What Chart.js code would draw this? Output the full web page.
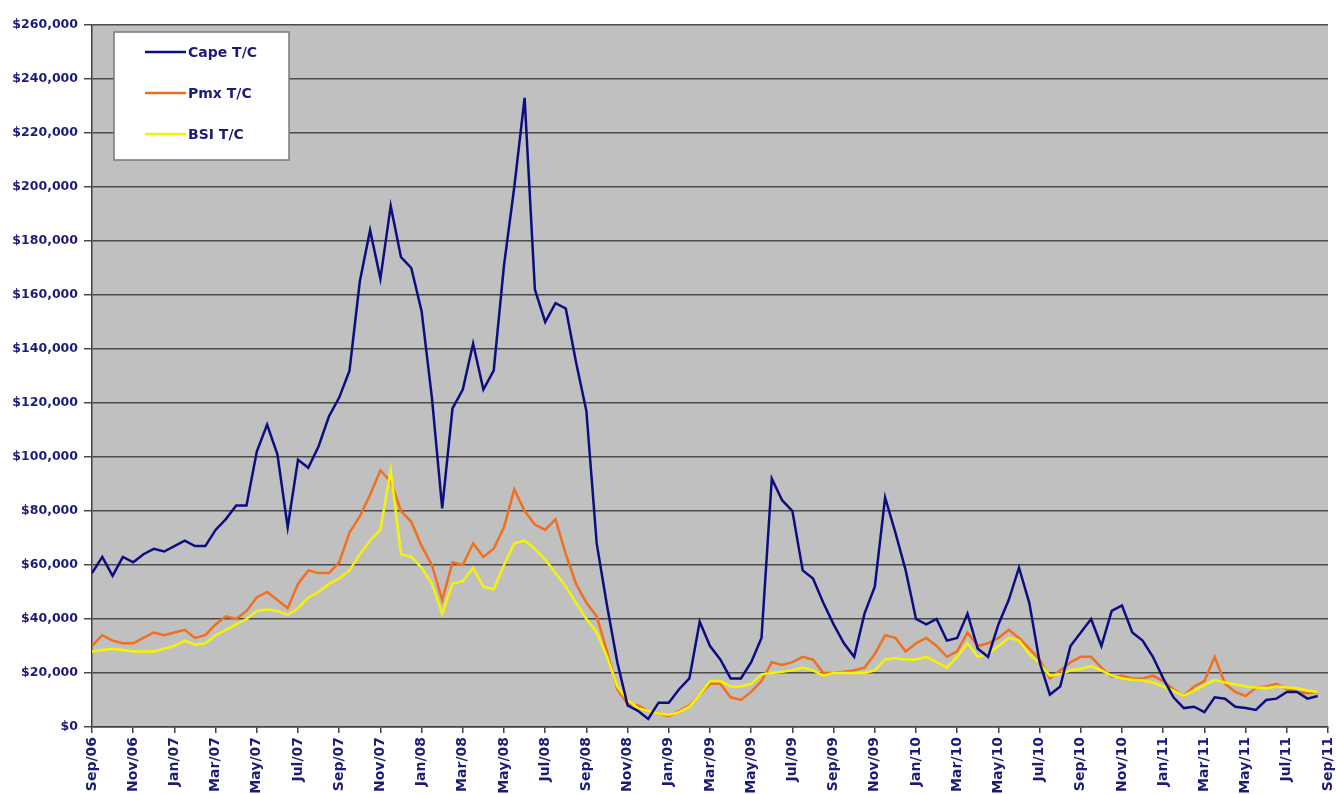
<!DOCTYPE html>
<html>
<head>
<meta charset="utf-8">
<script src="https://cdn.jsdelivr.net/npm/chart.js@4.4.1/dist/chart.umd.min.js"></script>
<style>
  html, body { margin: 0; padding: 0; background: #ffffff; }
  #wrap { width: 1336px; height: 794px; position: relative; }
</style>
</head>
<body>
<div id="wrap"><canvas id="tcChart"></canvas></div>
<script>
// tick labels, one every two months from Sep/06 to Sep/11
const tickLabels = ['Sep/06','Nov/06','Jan/07','Mar/07','May/07','Jul/07','Sep/07','Nov/07',
  'Jan/08','Mar/08','May/08','Jul/08','Sep/08','Nov/08','Jan/09','Mar/09','May/09','Jul/09',
  'Sep/09','Nov/09','Jan/10','Mar/10','May/10','Jul/10','Sep/10','Nov/10','Jan/11','Mar/11',
  'May/11','Jul/11','Sep/11'];

// one reading every half month, in $ thousands per day
const STEP = 0.5;
const capeTC = [57,63,56,63,61,64,66,65,67,69,
  67,67,73,77,82,82,102,112,101,74,
  99,96,104,115,122,132,165,184,166,193,
  174,170,154,122,81,118,125,142,125,132,
  171,200,233,162,150,157,155,135,117,68,
  45,24,8,6,3,9,9,14,18,39,
  30,25,18,18,24,33,92,84,80,58,
  55,46,38,31,26,42,52,85,72,58,
  40,38,40,32,33,42,29,26,38,47,
  59,46,24,12,15,30,35,40,30,43,
  45,35,32,26,18,11,7,7.5,5.5,11,
  10.5,7.5,7,6.3,10,10.5,13,13,10.5,11.5];

const pmxTC = [30,34,32,31,31,33,35,34,35,36,
  33,34,38,41,40,43,48,50,47,44,
  53,58,57,57,61,72,78,86,95,91,
  80,76,67,60,47,61,60,68,63,66,
  74,88,80,75,73,77,64,53,46,41,
  28,14,8.5,8,6,5,4,6,8,12,
  16,16,11,10,13,17,24,23,24,26,
  25,20,20,20.5,21,22,27,34,33,28,
  31,33,30,26,28,35,30,31,33,36,
  33,29,25,18,21,24,26,26,22,18.5,
  19,18,18,19,17,14,11.5,15,17,26,
  16,13,11.5,14.5,15,16,14,13,12.5,13];

const bsiTC = [28,28.5,29,28.5,28,28,28,29,30,32,
  30.5,31,34,36,38,40,43,43.5,43,41.5,
  44,48,50,53,55,58,64,69,73,95,
  64,63,59,53,42,53,54,59,52,51,
  60,68,69,66,62,57,52,46,40,35,
  26,15,10,7,6,5,4.5,5.5,7.5,12,
  17,17,15,15,16,19.5,20,20.5,21,22,
  21,19,20,20,20,20,21,25,25.5,25,
  25,26,24,22,26,31,26,27,30,33,
  32,27,23.6,19,19.5,21,21.5,22.5,21,19,
  18,17.5,17.2,16.5,15,13.5,11.5,13.5,15.5,17.4,
  16.5,15.8,15,14.6,14.4,15,14.6,14.4,13.5,13];

const labelColor = '#1c1c78';
const font = 'DejaVu Sans';

function toPoints(arr) {
  return arr.map((v, i) => ({ x: i * STEP, y: v }));
}

// grey plot area like the old excel chart
const plotBg = {
  id: 'plotBg',
  beforeDraw(chart) {
    const { ctx, chartArea: a } = chart;
    ctx.save();
    ctx.fillStyle = '#c0c0c0';
    ctx.fillRect(a.left, a.top, a.width, a.height);
    ctx.restore();
  }
};

// boxed legend in the top left corner of the plot
const boxLegend = {
  id: 'boxLegend',
  afterDraw(chart) {
    const { ctx, chartArea: a } = chart;
    const x = a.left + 22, y = a.top + 7, w = 175, h = 128;
    ctx.save();
    ctx.fillStyle = '#ffffff';
    ctx.fillRect(x, y, w, h);
    ctx.strokeStyle = '#7a7a7a';
    ctx.lineWidth = 1.5;
    ctx.strokeRect(x, y, w, h);
    ctx.font = 'bold 14px "' + font + '"';
    ctx.textBaseline = 'middle';
    chart.data.datasets.forEach((ds, i) => {
      const ly = y + 20 + i * 41;
      ctx.strokeStyle = ds.borderColor;
      ctx.lineWidth = 2.5;
      ctx.beginPath();
      ctx.moveTo(x + 31, ly);
      ctx.lineTo(x + 72, ly);
      ctx.stroke();
      ctx.fillStyle = labelColor;
      ctx.fillText(ds.label, x + 74, ly + 1);
    });
    ctx.restore();
  }
};

new Chart(document.getElementById('tcChart'), {
  type: 'line',
  data: {
    datasets: [
      { label: 'Cape T/C', data: toPoints(capeTC), borderColor: '#0d0d82', order: 1 },
      { label: 'Pmx T/C', data: toPoints(pmxTC), borderColor: '#f0701e', order: 3 },
      { label: 'BSI T/C', data: toPoints(bsiTC), borderColor: '#f4f400', order: 2 }
    ]
  },
  options: {
    responsive: true,
    maintainAspectRatio: false,
    animation: false,
    layout: { padding: { top: 25, right: 8, left: 0, bottom: 0 } },
    elements: {
      line: { borderWidth: 2.5, tension: 0 },
      point: { radius: 0 }
    },
    plugins: {
      legend: { display: false },
      tooltip: { enabled: false }
    },
    scales: {
      x: {
        type: 'linear',
        min: 0,
        max: 60,
        afterFit(scale) {
          scale.height = 67;
          scale.paddingLeft = 0;
          scale.paddingRight = 0;
        },
        grid: { display: true, drawOnChartArea: false, drawTicks: true, tickLength: 6, color: '#404040', lineWidth: 1.5 },
        border: { display: true, color: '#404040', width: 1.5 },
        ticks: {
          stepSize: 2,
          autoSkip: false,
          minRotation: 90,
          maxRotation: 90,
          padding: 4,
          color: labelColor,
          font: { family: font, size: 14, weight: 'bold' },
          callback: (v) => tickLabels[v / 2]
        }
      },
      y: {
        min: 0,
        max: 260,
        afterFit(scale) {
          scale.width = 92;
          scale.paddingTop = 0;
          scale.paddingBottom = 0;
        },
        grid: { color: '#4a4a4a', lineWidth: 1.5, tickLength: 8 },
        border: { display: true, color: '#404040', width: 1.5 },
        ticks: {
          stepSize: 20,
          padding: 6,
          color: labelColor,
          font: { family: font, size: 12.5, weight: 'bold' },
          callback: (v) => v === 0 ? '$0' : '$' + v + ',000'
        }
      }
    }
  },
  plugins: [plotBg, boxLegend]
});
</script>
</body>
</html>
